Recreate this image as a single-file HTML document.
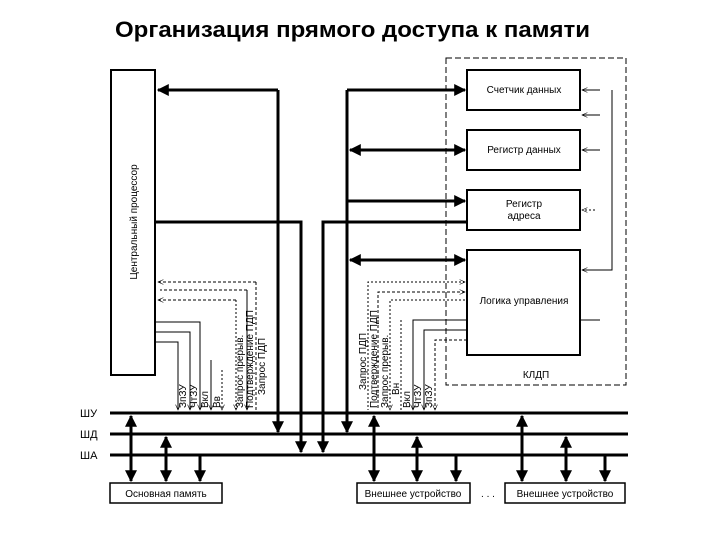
<!DOCTYPE html>
<html><head><meta charset="utf-8"><style>
body{margin:0;background:#fff;}
svg{display:block;font-family:"Liberation Sans",sans-serif;}
</style></head><body>
<svg width="720" height="540" viewBox="0 0 720 540" xmlns="http://www.w3.org/2000/svg">
<defs>
<marker id="a" viewBox="0 0 10 10" refX="9" refY="5" markerWidth="4" markerHeight="4" orient="auto-start-reverse"><path d="M0,0L10,5L0,10z" fill="#000"/></marker>
<marker id="s" viewBox="0 0 10 10" refX="9" refY="5" markerWidth="6" markerHeight="6" orient="auto-start-reverse"><path d="M0,1L9,5L0,9" fill="none" stroke="#000" stroke-width="1"/></marker>
</defs>
<text x="115" y="37" font-size="22" font-weight="bold" textLength="475" lengthAdjust="spacingAndGlyphs">Организация прямого доступа к памяти</text>

<!-- CPU -->
<rect x="111" y="70" width="44" height="305" fill="none" stroke="#000" stroke-width="2"/>
<text transform="translate(137,222) rotate(-90)" font-size="10" text-anchor="middle">Центральный процессор</text>

<!-- KLDP dashed -->
<rect x="446" y="58" width="180" height="327" fill="none" stroke="#000" stroke-width="1" stroke-dasharray="6,3"/>
<text x="536" y="378" font-size="10" text-anchor="middle">КЛДП</text>

<rect x="467" y="70" width="113" height="40" fill="#fff" stroke="#000" stroke-width="2"/>
<text x="524" y="93" font-size="10" text-anchor="middle">Счетчик данных</text>
<rect x="467" y="130" width="113" height="40" fill="#fff" stroke="#000" stroke-width="2"/>
<text x="524" y="153" font-size="10" text-anchor="middle">Регистр данных</text>
<rect x="467" y="190" width="113" height="40" fill="#fff" stroke="#000" stroke-width="2"/>
<text x="524" y="207" font-size="10" text-anchor="middle">Регистр</text>
<text x="524" y="219" font-size="10" text-anchor="middle">адреса</text>
<rect x="467" y="250" width="113" height="105" fill="#fff" stroke="#000" stroke-width="2"/>
<text x="524" y="304" font-size="10" text-anchor="middle">Логика управления</text>

<!-- right side control -->
<g stroke="#000" stroke-width="1" fill="none">
<path d="M612,90V270H582" marker-end="url(#s)"/>
<path d="M600,90H582" marker-end="url(#s)"/>
<path d="M600,115H582" marker-end="url(#s)"/>
<path d="M600,150H582" marker-end="url(#s)"/>
<path d="M595,210H582" marker-end="url(#s)" stroke-dasharray="2,2"/>
<path d="M580,320H600"/>
</g>

<!-- thick data lines -->
<g stroke="#000" stroke-width="3" fill="none">
<path d="M278,90H158" marker-end="url(#a)"/>
<path d="M278,90V432" marker-end="url(#a)"/>
<path d="M155,222H301V452" marker-end="url(#a)"/>
<path d="M467,222H323V452" marker-end="url(#a)"/>
<path d="M347,90V432" marker-end="url(#a)"/>
<path d="M347,90H465" marker-end="url(#a)"/>
<path d="M350,150H465" marker-start="url(#a)" marker-end="url(#a)"/>
<path d="M347,201H465" marker-end="url(#a)"/>
<path d="M350,260H465" marker-start="url(#a)" marker-end="url(#a)"/>
</g>

<!-- CPU control lines -->
<g stroke="#000" stroke-width="1" fill="none">
<path d="M256,282H158" stroke-dasharray="3,2" marker-end="url(#s)"/>
<path d="M256,282V410" stroke-dasharray="3,2"/>
<path d="M247,290H160" stroke-dasharray="3,2"/>
<path d="M247,290V410" marker-end="url(#s)"/>
<path d="M236,300H158" stroke-dasharray="3,2" marker-end="url(#s)"/>
<path d="M236,300V410" stroke-dasharray="2,2" marker-end="url(#s)"/>
<path d="M155,322H200V410" marker-end="url(#s)"/>
<path d="M155,332H190V410" marker-end="url(#s)"/>
<path d="M155,342H178V410" marker-end="url(#s)"/>
<path d="M211,360V410" marker-end="url(#s)"/>
<path d="M222,370V410" stroke-dasharray="2,2" marker-end="url(#s)"/>
</g>
<g font-size="10">
<text transform="translate(186,408) rotate(-90)">ЗпЗУ</text>
<text transform="translate(197,408) rotate(-90)">ЧтЗУ</text>
<text transform="translate(208,408) rotate(-90)">Вкл</text>
<text transform="translate(220,408) rotate(-90)">Вв</text>
<text transform="translate(243,408) rotate(-90)">Запрос прерыв.</text>
<text transform="translate(253,408) rotate(-90)">Подтверждение ПДП</text>
<text transform="translate(265,395) rotate(-90)">Запрос ПДП</text>
</g>

<!-- KLDP control lines -->
<g stroke="#000" stroke-width="1" fill="none">
<path d="M465,282H368V410" stroke-dasharray="2,2" marker-start="url(#s)"/>
<path d="M465,292H378V410" stroke-dasharray="3,2" marker-start="url(#s)"/>
<path d="M465,300H390V410" stroke-dasharray="2,2" marker-end="url(#s)"/>
<path d="M401,320V410" stroke-dasharray="2,2"/>
<path d="M467,320H413V410" marker-end="url(#s)"/>
<path d="M467,330H424V410" marker-end="url(#s)"/>
<path d="M467,340H435V410" stroke-dasharray="3,2" marker-end="url(#s)"/>
</g>
<g font-size="10">
<text transform="translate(366,390) rotate(-90)">Запрос ПДП</text>
<text transform="translate(377,408) rotate(-90)">Подтверждение ПДП</text>
<text transform="translate(388,408) rotate(-90)">Запрос прерыв.</text>
<text transform="translate(399,395) rotate(-90)">Вн</text>
<text transform="translate(410,408) rotate(-90)">Вкл</text>
<text transform="translate(421,408) rotate(-90)">ЧтЗУ</text>
<text transform="translate(432,408) rotate(-90)">ЗпЗУ</text>
</g>

<!-- buses -->
<g stroke="#000" stroke-width="3">
<line x1="110" y1="413" x2="628" y2="413"/>
<line x1="110" y1="434" x2="628" y2="434"/>
<line x1="110" y1="455" x2="628" y2="455"/>
</g>
<g font-size="11">
<text x="80" y="417">ШУ</text><text x="80" y="438">ШД</text><text x="80" y="459">ША</text>
</g>
<g stroke="#000" stroke-width="3" fill="none">
<path d="M131,416V481" marker-start="url(#a)" marker-end="url(#a)"/>
<path d="M166,437V481" marker-start="url(#a)" marker-end="url(#a)"/>
<path d="M200,455V481" marker-end="url(#a)"/>
<path d="M374,416V481" marker-start="url(#a)" marker-end="url(#a)"/>
<path d="M417,437V481" marker-start="url(#a)" marker-end="url(#a)"/>
<path d="M456,455V481" marker-end="url(#a)"/>
<path d="M522,416V481" marker-start="url(#a)" marker-end="url(#a)"/>
<path d="M566,437V481" marker-start="url(#a)" marker-end="url(#a)"/>
<path d="M605,455V481" marker-end="url(#a)"/>
</g>
<g fill="#fff" stroke="#000" stroke-width="1.5">
<rect x="110" y="483" width="112" height="20"/>
<rect x="357" y="483" width="113" height="20"/>
<rect x="505" y="483" width="120" height="20"/>
</g>
<g font-size="10" text-anchor="middle">
<text x="166" y="497">Основная память</text>
<text x="413" y="497">Внешнее устройство</text>
<text x="565" y="497">Внешнее устройство</text>
<text x="488" y="497">. . .</text>
</g>
</svg>
</body></html>
